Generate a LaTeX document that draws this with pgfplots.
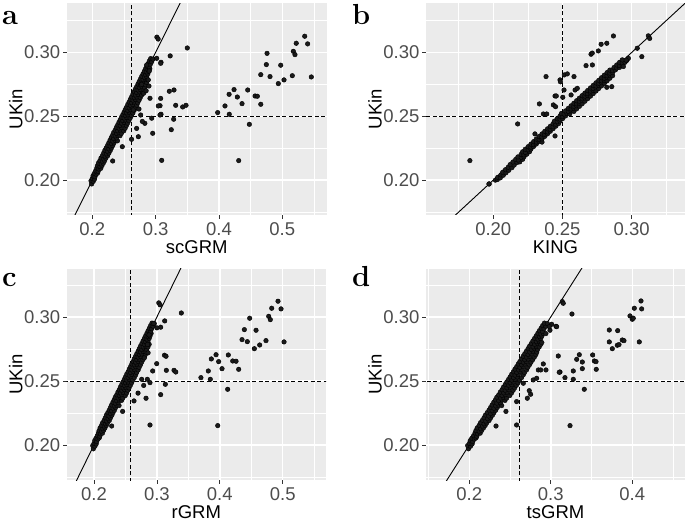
\documentclass[border=0pt]{standalone}
\usepackage{fontspec}
\setsansfont{Liberation Sans}
\usepackage{pgfplots}
\pgfplotsset{compat=1.18}
\usepackage{pgfplotstable}

\definecolor{panelbg}{HTML}{EBEBEB}
\definecolor{ticklab}{HTML}{4D4D4D}
\definecolor{tickcol}{HTML}{333333}
\definecolor{pts}{HTML}{1A1A1A}

% dense band shared by scGRM, rGRM and tsGRM panels
\pgfplotstableread{
x y
0.199 0.197
0.198 0.1995
0.2015 0.199
0.200 0.2012
0.2035 0.2008
0.2012 0.2034
0.2043 0.2027
0.2031 0.2052
0.2062 0.2046
0.2083 0.2055
0.2054 0.2073
0.2092 0.2068
0.2071 0.2094
0.2103 0.2087
0.2134 0.2092
0.2082 0.2113
0.2121 0.2108
0.2153 0.2114
0.2098 0.2134
0.2142 0.2127
0.2174 0.2133
0.2121 0.2153
0.2163 0.2148
0.2195 0.2152
0.2138 0.2174
0.2182 0.2166
0.2214 0.2172
0.2162 0.2193
0.2203 0.2187
0.2243 0.2191
0.2181 0.2213
0.2224 0.2206
0.2262 0.2212
0.2199 0.2234
0.2238 0.2227
0.2284 0.2232
0.2221 0.2253
0.2262 0.2246
0.2302 0.2252
0.2243 0.2273
0.2281 0.2268
0.2324 0.2271
0.2262 0.2293
0.2303 0.2287
0.2343 0.2292
0.2281 0.2313
0.2324 0.2306
0.2362 0.2311
0.2398 0.2308
0.2301 0.2334
0.2338 0.2327
0.2383 0.2331
0.2322 0.2353
0.2362 0.2347
0.2402 0.2352
0.2438 0.2348
0.2338 0.2373
0.2383 0.2367
0.2422 0.2372
0.2458 0.2366
0.2362 0.2392
0.2402 0.2387
0.2441 0.2393
0.2497 0.2386
0.2381 0.2413
0.2423 0.2407
0.2462 0.2412
0.2518 0.2406
0.2402 0.2432
0.2441 0.2428
0.2484 0.2433
0.2538 0.2427
0.2421 0.2453
0.2463 0.2447
0.2502 0.2452
0.2557 0.2446
0.2442 0.2473
0.2483 0.2467
0.2521 0.2472
0.2578 0.2466
0.2461 0.2493
0.2502 0.2487
0.2543 0.2492
0.2598 0.2486
0.2483 0.2513
0.2521 0.2507
0.2562 0.2512
0.2617 0.2506
0.2502 0.2532
0.2543 0.2527
0.2583 0.2533
0.2641 0.2526
0.2521 0.2553
0.2562 0.2546
0.2601 0.2552
0.2662 0.2547
0.2542 0.2572
0.2583 0.2567
0.2622 0.2573
0.2678 0.2566
0.2561 0.2593
0.2603 0.2587
0.2641 0.2592
0.2702 0.2586
0.2583 0.2613
0.2621 0.2607
0.2662 0.2612
0.2718 0.2606
0.2602 0.2633
0.2642 0.2627
0.2681 0.2632
0.2738 0.2626
0.2621 0.2652
0.2663 0.2647
0.2702 0.2652
0.2757 0.2646
0.2641 0.2673
0.2682 0.2667
0.2722 0.2671
0.2778 0.2666
0.2662 0.2693
0.2701 0.2687
0.2743 0.2692
0.2798 0.2686
0.2681 0.2713
0.2722 0.2707
0.2761 0.2712
0.2817 0.2706
0.2702 0.2733
0.2742 0.2727
0.2783 0.2732
0.2828 0.2726
0.2722 0.2753
0.2761 0.2746
0.2802 0.2752
0.2838 0.2747
0.2741 0.2773
0.2783 0.2767
0.2822 0.2772
0.2858 0.2766
0.2762 0.2793
0.2802 0.2787
0.2841 0.2792
0.2877 0.2786
0.2781 0.2813
0.2823 0.2807
0.2858 0.2811
0.2802 0.2833
0.2842 0.2827
0.2877 0.2832
0.2822 0.2853
0.2861 0.2847
0.2891 0.2852
0.2842 0.2873
0.2879 0.2867
0.2908 0.2872
0.2861 0.2893
0.2898 0.2887
0.2882 0.2913
0.2917 0.2908
0.2901 0.2933
0.2938 0.2928
0.2922 0.2952
0.2958 0.2948
}\band

% dense band of the KING panel
\pgfplotstableread{
x y
0.197 0.197
0.2015 0.200
0.203 0.2005
0.2032 0.2022
0.2051 0.2018
0.2055 0.2041
0.2072 0.2038
0.2068 0.2062
0.2092 0.2058
0.2088 0.2082
0.2112 0.2077
0.2108 0.2101
0.2135 0.2098
0.2122 0.2122
0.2151 0.2118
0.2142 0.2142
0.2172 0.2138
0.2191 0.2143
0.2162 0.2162
0.2181 0.2158
0.2212 0.2163
0.2178 0.2182
0.2202 0.2178
0.2222 0.2183
0.2201 0.2202
0.2221 0.2198
0.2242 0.2203
0.2212 0.2222
0.2232 0.2218
0.2262 0.2223
0.2231 0.2242
0.2252 0.2238
0.2272 0.2243
0.2252 0.2262
0.2272 0.2258
0.2291 0.2263
0.2272 0.2282
0.2292 0.2278
0.2311 0.2283
0.2292 0.2302
0.2312 0.2298
0.2331 0.2303
0.2352 0.2298
0.2311 0.2322
0.2331 0.2318
0.2352 0.2323
0.2331 0.2342
0.2351 0.2338
0.2372 0.2343
0.2352 0.2362
0.2371 0.2358
0.2392 0.2363
0.2372 0.2382
0.2392 0.2378
0.2412 0.2383
0.2392 0.2402
0.2411 0.2398
0.2432 0.2403
0.2412 0.2422
0.2432 0.2418
0.2452 0.2423
0.2432 0.2442
0.2451 0.2438
0.2472 0.2443
0.2442 0.2462
0.2462 0.2458
0.2482 0.2463
0.2462 0.2482
0.2482 0.2478
0.2502 0.2483
0.2482 0.2502
0.2502 0.2498
0.2522 0.2503
0.2492 0.2522
0.2512 0.2518
0.2532 0.2523
0.2552 0.2518
0.2522 0.2542
0.2542 0.2538
0.2562 0.2543
0.2582 0.2538
0.2542 0.2562
0.2562 0.2558
0.2582 0.2563
0.2602 0.2558
0.2562 0.2582
0.2582 0.2578
0.2602 0.2583
0.2622 0.2578
0.2582 0.2602
0.2602 0.2598
0.2622 0.2603
0.2642 0.2598
0.2602 0.2622
0.2622 0.2618
0.2642 0.2623
0.2662 0.2618
0.2622 0.2642
0.2642 0.2638
0.2662 0.2643
0.2682 0.2638
0.2642 0.2662
0.2662 0.2658
0.2682 0.2663
0.2702 0.2658
0.2662 0.2682
0.2682 0.2678
0.2702 0.2683
0.2722 0.2678
0.2682 0.2702
0.2702 0.2698
0.2722 0.2703
0.2742 0.2698
0.2702 0.2722
0.2722 0.2718
0.2742 0.2723
0.2762 0.2718
0.2722 0.2742
0.2742 0.2738
0.2762 0.2743
0.2782 0.2738
0.2742 0.2762
0.2762 0.2758
0.2782 0.2763
0.2802 0.2758
0.2762 0.2782
0.2782 0.2778
0.2802 0.2783
0.2822 0.2778
0.2782 0.2802
0.2802 0.2798
0.2822 0.2803
0.2842 0.2798
0.2802 0.2822
0.2822 0.2818
0.2842 0.2823
0.2862 0.2818
0.2822 0.2842
0.2842 0.2838
0.2862 0.2843
0.2842 0.2862
0.2862 0.2858
0.2882 0.2863
0.2872 0.2882
0.2892 0.2878
0.2912 0.2883
0.2892 0.2902
0.2912 0.2898
0.2932 0.2903
0.2912 0.2922
0.2932 0.2918
0.2952 0.2923
0.2932 0.2942
0.2965 0.2938
}\bandb

\pgfplotsset{
  gg/.style={
    scale only axis, anchor=south west,
    axis background/.style={fill=panelbg},
    axis line style={draw=none},
    grid=both,
    major grid style={white, line width=1.5pt},
    minor grid style={white, line width=0.75pt},
    tick align=outside, xtick pos=bottom, ytick pos=left,
    major tick length=3.7pt, minor tick length=0pt,
    tick style={tickcol, line width=0.8pt},
    tick label style={font=\sffamily\fontsize{18.5}{18.5}\selectfont, text=ticklab, inner sep=0pt},
    xticklabel style={yshift=-3.5pt},
    yticklabel style={xshift=-2.7pt},
    every axis x label/.style={at={(axis description cs:0.5,0)}, yshift=-32.2pt, anchor=center,
      inner sep=0pt, font=\sffamily\fontsize{18.5}{18.5}\selectfont, text=black},
    every axis y label/.style={at={(axis description cs:0,0.5)}, xshift=-51pt, rotate=90, anchor=center,
      inner sep=0pt, font=\sffamily\fontsize{18.5}{18.5}\selectfont, text=black},
    ylabel={UKin},
    ytick={0.20,0.25,0.30}, yticklabels={0.20,0.25,0.30},
    minor ytick={0.175,0.225,0.275,0.325},
  },
  pt/.style={only marks, mark=*, mark size=2.3pt, mark options={draw=none, fill=pts}},
  idline/.style={black, line width=0.9pt, no marks},
  dashline/.style={black, line width=0.8pt, dash pattern=on 4pt off 2.5pt, no marks},
}

\begin{document}
\begin{tikzpicture}
\path[use as bounding box] (0,0) rectangle (685pt,524pt);

% ---- a: scGRM
\begin{axis}[gg, at={(66.7pt,309pt)}, width=260pt, height=211.7pt,
  xmin=0.1596, xmax=0.5701, ymin=0.1727, ymax=0.3385,
  xtick={0.2,0.3,0.4,0.5}, xticklabels={0.2,0.3,0.4,0.5},
  minor xtick={0.25,0.35,0.45,0.55},
  xlabel={scGRM}]
\addplot[idline] coordinates {(0.1,0.1) (0.6,0.6)};
\addplot[dashline] coordinates {(0.2625,0.1) (0.2625,0.4)};
\addplot[dashline] coordinates {(0.1,0.25) (0.7,0.25)};
\addplot[pt] table {\band};
\addplot[pt] coordinates {
(0.350,0.3035) (0.3085,0.2923) (0.323,0.2973) (0.308,0.264) (0.3216,0.2696)
(0.329,0.2706) (0.3317,0.2586) (0.3427,0.2573) (0.348,0.2586) (0.307,0.2583)
(0.3085,0.2516) (0.3285,0.2477) (0.3247,0.2395) (0.3096,0.2155) (0.398,0.2529)
(0.4095,0.2581) (0.4163,0.2516) (0.416,0.2672) (0.4238,0.2709) (0.429,0.2651)
(0.4364,0.2599) (0.4454,0.2706) (0.448,0.2437) (0.4312,0.2153) (0.457,0.2659)
(0.4606,0.2657) (0.466,0.2594) (0.466,0.2826) (0.4748,0.2905) (0.4759,0.2993)
(0.4806,0.2811) (0.4937,0.2756) (0.4975,0.290) (0.5027,0.2785) (0.5158,0.2818)
(0.5174,0.3009) (0.520,0.2983) (0.522,0.3072) (0.5354,0.3127) (0.540,0.3067)
(0.5458,0.2808)
(0.2727,0.234) (0.2954,0.2367) (0.2322,0.215) (0.2474,0.2262) (0.2895,0.2737)
(0.3042,0.2581) (0.3069,0.251) (0.2938,0.2485) (0.2764,0.251) (0.2911,0.2641)
(0.2884,0.2785) (0.29,0.2855) (0.3017,0.2954) (0.308,0.2915) (0.2859,0.2902)
(0.2737,0.2557) (0.2648,0.255) (0.302,0.312) (0.304,0.3105) (0.283,0.2445)
(0.279,0.246) (0.270,0.2405) (0.262,0.232) (0.281,0.268) (0.285,0.270) (0.278,0.275)
};
\end{axis}

% ---- b: KING
\begin{axis}[gg, at={(426pt,309pt)}, width=259pt, height=211.7pt,
  xmin=0.1514, xmax=0.3385, ymin=0.1727, ymax=0.3385,
  xtick={0.20,0.25,0.30}, xticklabels={0.20,0.25,0.30},
  minor xtick={0.175,0.225,0.275,0.325},
  xlabel={KING}]
\addplot[idline] coordinates {(0.1,0.1) (0.6,0.6)};
\addplot[dashline] coordinates {(0.25,0.1) (0.25,0.4)};
\addplot[dashline] coordinates {(0.1,0.25) (0.7,0.25)};
\addplot[pt] table {\bandb};
\addplot[pt] coordinates {
(0.2868,0.3129) (0.2779,0.3064) (0.282,0.3072) (0.2759,0.3012) (0.2706,0.2986)
(0.2715,0.2995) (0.267,0.2897) (0.2716,0.2902) (0.2513,0.2824) (0.2535,0.2832)
(0.2583,0.2811) (0.2482,0.2785) (0.2485,0.277) (0.2511,0.2706) (0.2591,0.2706)
(0.2607,0.2719) (0.2446,0.2659) (0.2455,0.2659) (0.2502,0.2649) (0.2562,0.2667)
(0.2434,0.2589) (0.245,0.2575) (0.2856,0.2732) (0.282,0.2727) (0.2446,0.2346)
(0.1831,0.2153) (0.2176,0.244) (0.2381,0.2811) (0.2333,0.2597) (0.2362,0.2518)
(0.2386,0.2518) (0.2301,0.2362) (0.1969,0.197) (0.312,0.313) (0.313,0.311)
(0.304,0.3033) (0.3073,0.2967) (0.2976,0.2954) (0.294,0.289) (0.296,0.294)
};
\end{axis}

% ---- c: rGRM
\begin{axis}[gg, at={(66.7pt,43.7pt)}, width=259.3pt, height=211.6pt,
  xmin=0.1566, xmax=0.5688, ymin=0.1724, ymax=0.3377,
  xtick={0.2,0.3,0.4,0.5}, xticklabels={0.2,0.3,0.4,0.5},
  minor xtick={0.25,0.35,0.45,0.55},
  xlabel={rGRM}]
\addplot[idline] coordinates {(0.1,0.1) (0.6,0.6)};
\addplot[dashline] coordinates {(0.2585,0.1) (0.2585,0.4)};
\addplot[dashline] coordinates {(0.1,0.25) (0.7,0.25)};
\addplot[pt] table {\band};
\addplot[pt] coordinates {
(0.3388,0.3031) (0.3124,0.2969) (0.306,0.292) (0.312,0.2701) (0.3145,0.2693)
(0.315,0.2583) (0.3272,0.2583) (0.330,0.2570) (0.3134,0.2474) (0.306,0.2393)
(0.370,0.2526) (0.3817,0.2578) (0.3849,0.2513) (0.3865,0.2672) (0.394,0.2705)
(0.3982,0.2651) (0.4035,0.2596) (0.4135,0.2703) (0.4125,0.2435) (0.3967,0.2151)
(0.4205,0.2656) (0.4258,0.2654) (0.430,0.2591) (0.4353,0.2823) (0.439,0.2901)
(0.4437,0.2807) (0.4475,0.2990) (0.4549,0.2752) (0.4576,0.2896) (0.4634,0.2781)
(0.4734,0.2815) (0.4777,0.3005) (0.4803,0.2979) (0.4825,0.3068) (0.4925,0.3123)
(0.4973,0.3063) (0.5021,0.2805)
(0.2636,0.2344) (0.2827,0.2365) (0.289,0.2156) (0.2281,0.2148) (0.2997,0.2635)
(0.2933,0.2578) (0.2758,0.2513) (0.2848,0.2513) (0.289,0.2487) (0.303,0.311)
(0.305,0.3095) (0.295,0.295) (0.300,0.2915) (0.285,0.2785) (0.2875,0.286)
(0.2455,0.2262) (0.279,0.2465) (0.270,0.2405) (0.286,0.272) (0.280,0.268)
};
\end{axis}

% ---- d: tsGRM
\begin{axis}[gg, at={(426pt,43.7pt)}, width=259pt, height=211.6pt,
  xmin=0.1469, xmax=0.4647, ymin=0.1724, ymax=0.3377,
  xtick={0.2,0.3,0.4}, xticklabels={0.2,0.3,0.4},
  minor xtick={0.15,0.25,0.35,0.45},
  xlabel={tsGRM}]
\addplot[idline] coordinates {(0.1,0.1) (0.6,0.6)};
\addplot[dashline] coordinates {(0.261,0.1) (0.261,0.4)};
\addplot[dashline] coordinates {(0.1,0.25) (0.7,0.25)};
\addplot[pt] table {\band};
\addplot[pt] coordinates {
(0.3011,0.2943) (0.299,0.2896) (0.3064,0.2927) (0.3141,0.3120) (0.3153,0.3107)
(0.326,0.3023) (0.3092,0.2695) (0.3113,0.257) (0.3174,0.2526) (0.3276,0.2578)
(0.3276,0.2513) (0.3318,0.2669) (0.335,0.2705) (0.3387,0.2648) (0.3387,0.2596)
(0.3411,0.2435) (0.3236,0.2151) (0.3514,0.2703) (0.3534,0.2656) (0.3555,0.2651)
(0.3558,0.2591) (0.3718,0.2898) (0.3718,0.2805) (0.3755,0.2752) (0.3821,0.2893)
(0.3816,0.2779) (0.3837,0.2784) (0.3877,0.2820) (0.3898,0.2815) (0.3972,0.3008)
(0.400,0.2982) (0.4012,0.2990) (0.4025,0.3068) (0.4107,0.3125) (0.4115,0.3063)
(0.4086,0.2805)
(0.2581,0.2156) (0.2581,0.2339) (0.2712,0.2365) (0.2753,0.2396) (0.2328,0.2148)
(0.2663,0.2482) (0.2785,0.2508) (0.2827,0.2521) (0.2847,0.2586) (0.2876,0.2586)
(0.2941,0.2586) (0.2908,0.2633) (0.3104,0.2568) (0.2982,0.2924) (0.3072,0.2924)
(0.2736,0.2424) (0.289,0.280) (0.294,0.287) (0.245,0.2262)
};
\end{axis}

% panel letters
\begin{scope}[every node/.style={anchor=base west, inner sep=0pt, font=\rmfamily\bfseries\fontsize{29}{29}\selectfont}]
\node at (2pt,499pt) {a};
\node at (352pt,499pt) {b};
\node at (2pt,237pt) {c};
\node at (352pt,237pt) {d};
\end{scope}
\end{tikzpicture}
\end{document}
